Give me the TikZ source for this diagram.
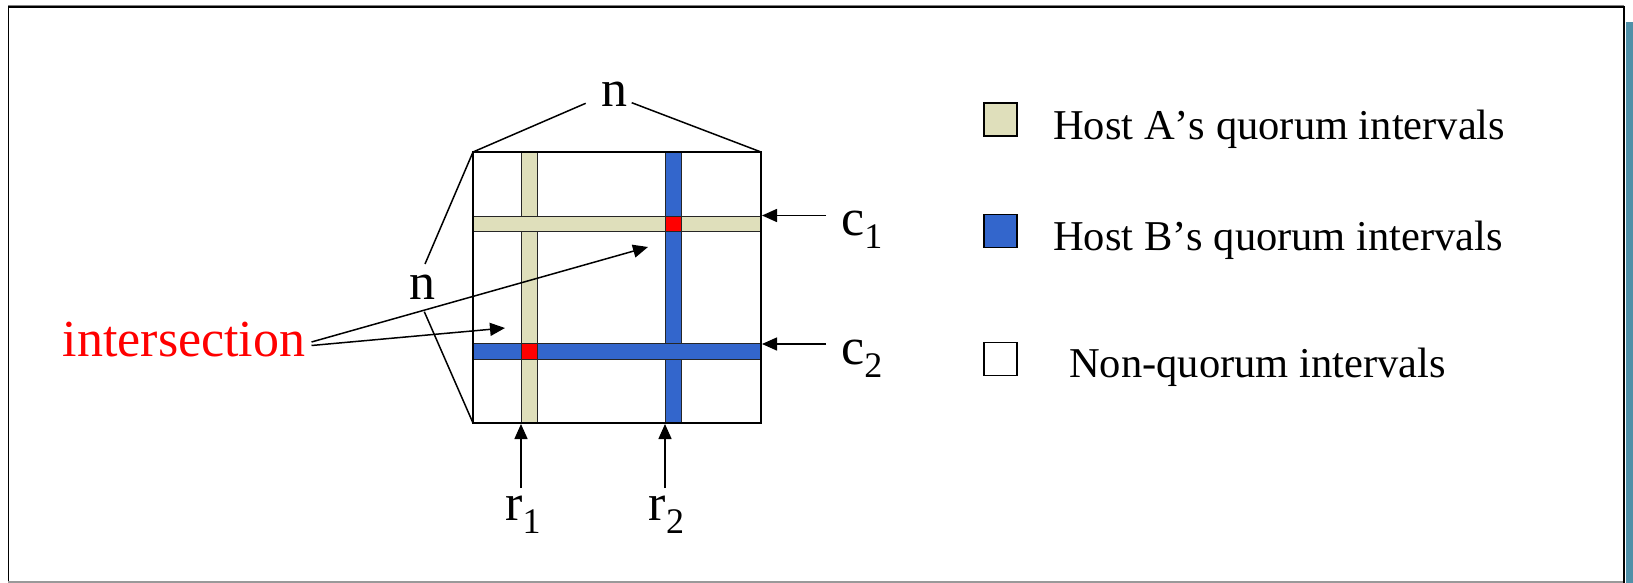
\documentclass[tikz,border=0pt]{standalone}
\usepackage{fontspec}
\setmainfont{Liberation Serif}
\newfontfamily\legfont[Kerning=Off]{Liberation Serif}
\usetikzlibrary{arrows.meta}
\definecolor{tanc}{HTML}{DFDFBB}
\definecolor{bluec}{HTML}{3366CC}
\definecolor{redc}{HTML}{FF0000}
\definecolor{tealc}{HTML}{5090A8}
\newcommand{\subtxt}[1]{\raisebox{-13pt}{\fontsize{36}{40}\selectfont #1}}
\tikzset{
  conn/.style={line width=1.5pt, black},
  arr/.style={conn, -{Triangle[length=15pt,width=13pt]}},
  band/.style={draw=black!85, line width=1pt},
  bigtxt/.style={inner sep=0pt, font=\fontsize{52}{60}\selectfont},
  legtxt/.style={inner sep=0pt, anchor=base west, font=\legfont\fontsize{42.5}{50}\selectfont},
  legsq/.style={draw=black, line width=1.6pt, minimum size=33pt, inner sep=0pt},
}
\begin{document}
\begin{tikzpicture}[x=1pt,y=-1pt]
\useasboundingbox (0,0) rectangle (1633,583);
% frame
\fill[white] (0,0) rectangle (1633,583);
\fill[tealc] (1625.5,22) rectangle (1633,583);
\draw[gray, line width=1pt] (8,5.5) -- (1624,5.5);
\draw[black, line width=1.8pt] (8,7.3) -- (1624,7.3);
\draw[black, line width=1.8pt] (8.5,7) -- (8.5,582);
\draw[gray!80, line width=1.4pt] (8,582) -- (1624,582);
\draw[black, line width=2.6pt] (1624,6) -- (1624,583);
% grid
\coordinate (TL) at (473,152);
\coordinate (TR) at (761,152);
\coordinate (BL) at (473,423);
\coordinate (BR) at (761,423);
\fill[white] (TL) rectangle (BR);
\path[band, fill=tanc] (521,152) rectangle (537,423);
\path[band, fill=bluec] (665,152) rectangle (681,423);
\path[band, fill=tanc] (473,216) rectangle (761,231);
\path[band, fill=bluec] (473,343.5) rectangle (761,359);
\path[band, fill=redc] (665,216) rectangle (681,231);
\path[band, fill=redc] (521,343.5) rectangle (537,359);
\draw[black, line width=1.4pt] (TL) rectangle (BR);
% n labels
\node[bigtxt, anchor=base] (nTop) at (614.2,106.7) {n};
\node[bigtxt, anchor=base] (nLeft) at (422,299.3) {n};
\coordinate (nTopL) at (585.7,103.3);
\coordinate (nTopR) at (631.7,102.7);
\coordinate (nLeftU) at (425,264);
\coordinate (nLeftD) at (424.3,311.7);
\draw[conn] (TL) -- (nTopL);
\draw[conn] (nTopR) -- (TR);
\draw[conn] (TL) -- (nLeftU);
\draw[conn] (nLeftD) -- (BL);
% intersection
\node[bigtxt, anchor=base west, text=redc] (inter) at (62.5,356) {intersection};
\coordinate (i1s) at (311.5,342);
\coordinate (i2s) at (311.5,345.5);
\coordinate (i1e) at (648,247);
\coordinate (i2e) at (505,328);
\draw[arr] (i1s) -- (i1e);
\draw[arr] (i2s) -- (i2e);
% c labels
\node[bigtxt, anchor=base west] (c1) at (841,235.5) {c\subtxt{1}};
\node[bigtxt, anchor=base west] (c2) at (841,364.5) {c\subtxt{2}};
\coordinate (c1s) at (826,215.5);
\coordinate (c1e) at (762,215.5);
\coordinate (c2s) at (826,344);
\coordinate (c2e) at (762,344);
\draw[arr] (c1s) -- (c1e);
\draw[arr] (c2s) -- (c2e);
% r labels
\node[bigtxt, anchor=base west] (r1) at (505,520) {r\subtxt{1}};
\node[bigtxt, anchor=base west] (r2) at (648.5,520) {r\subtxt{2}};
\coordinate (r1s) at (521,488);
\coordinate (r1e) at (521,424);
\coordinate (r2s) at (665,488);
\coordinate (r2e) at (665,424);
\draw[arr] (r1s) -- (r1e);
\draw[arr] (r2s) -- (r2e);
% legend
\node[legsq, fill=tanc] (sqA) at (1000.5,119.5) {};
\node[legsq, fill=bluec] (sqB) at (1000.5,231) {};
\node[legsq, fill=white] (sqN) at (1000.5,359) {};
\node[legtxt] (legA) at (1053,139.3) {Host A’s quorum intervals};
\node[legtxt] (legB) at (1053,250.7) {Host B’s quorum intervals};
\node[legtxt] (legN) at (1069,377.7) {Non-quorum intervals};
\end{tikzpicture}
\end{document}
